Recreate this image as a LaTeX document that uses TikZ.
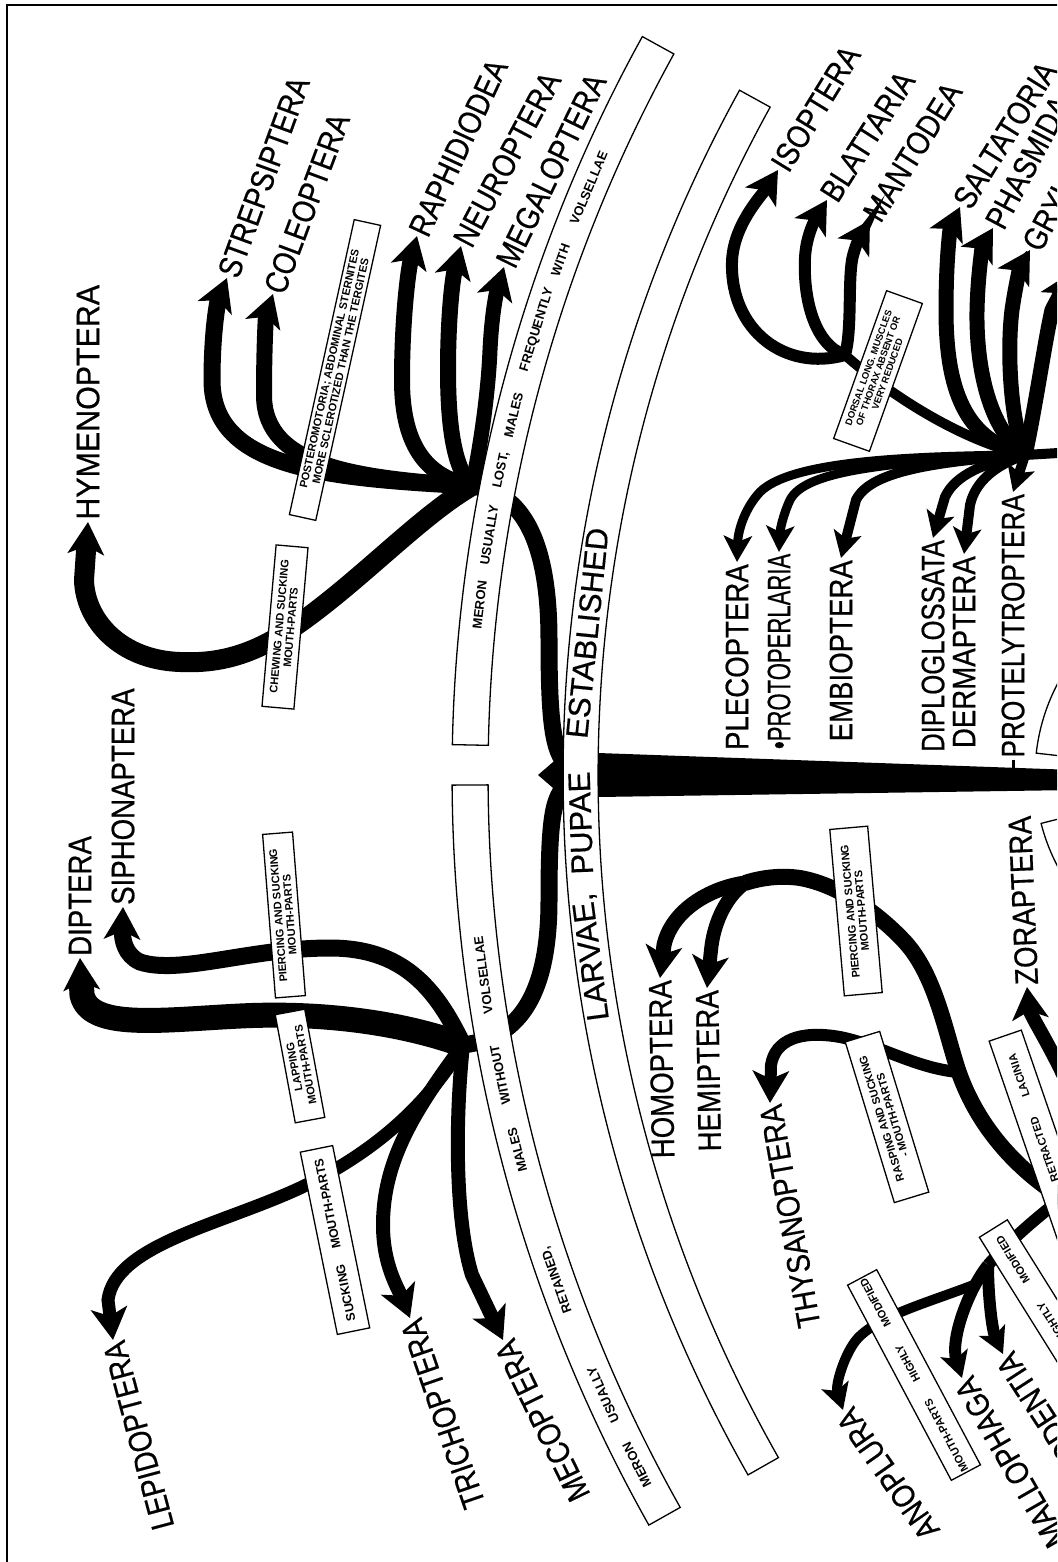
\documentclass[tikz,border=0pt]{standalone}
\usepackage{fontspec}
\setmainfont{Liberation Sans}
\newfontfamily\ordfont[FakeStretch=0.85, FakeBold=0.5]{Liberation Sans}
\newfontfamily\bandfont[FakeBold=0.5]{Liberation Sans}
\usetikzlibrary{arrows.meta, calc}

\begin{document}
\begin{tikzpicture}[x=1pt, y=1pt,
    ord/.style={font=\ordfont\fontsize{32.5}{34}\selectfont, inner sep=2pt},
    bandword/.style={font=\bfseries\fontsize{13}{14}\selectfont, inner sep=0pt},
    bigword/.style={font=\bandfont\fontsize{31}{32}\selectfont, inner sep=0pt},
    note/.style={draw, line width=1.3pt, fill=white, align=center, inner sep=1.5pt, font=\bfseries\fontsize{11}{11.5}\selectfont},
    bandline/.style={draw, line width=1.3pt, fill=white},
    br/.style={line width=#1},
    arr/.style={line width=#1, -{Stealth[length=32pt, width=36pt, inset=8pt]}},
    sarr/.style={line width=#1, -{Stealth[length=26pt, width=28pt, inset=6pt]}}
]
\useasboundingbox (0,0) rectangle (1057,-1562);
\fill[white] (0,0) rectangle (1057,-1562);
\clip (0,0) rectangle (1057,-1562);

% frame
\draw[line width=1.5pt] (7,-1570) -- (7,-5) -- (1070,-5);

% centres of the bands
\coordinate (Cb) at (1980,-775);
\coordinate (Cc) at (1231,-775);

% branching points
\coordinate (holoUp) at (472,-486);
\coordinate (holoLow) at (463,-1045);
\coordinate (ortho) at (1025,-455);
\coordinate (dicty) at (845,-355);
\coordinate (hemi) at (1062,-1198);
\coordinate (homSplit) at (745,-883);
\coordinate (thyJ) at (958,-1072);
\coordinate (psoc) at (988,-1265);
\coordinate (anoJ) at (976,-1284);
\coordinate (zorStart) at (1068,-1085);
\coordinate (cuspUp) at (567,-765);
\coordinate (cuspLow) at (567,-785);

% arrow tips
\coordinate (tHym) at (88,-522);
\coordinate (tStr) at (227,-278);
\coordinate (tCol) at (273,-294);
\coordinate (tRap) at (417,-236);
\coordinate (tNeu) at (461,-246);
\coordinate (tMeg) at (504,-267);
\coordinate (tDip) at (80,-958);
\coordinate (tSip) at (123,-907);
\coordinate (tLep) at (113,-1340);
\coordinate (tTri) at (410,-1318);
\coordinate (tMec) at (503,-1340);
\coordinate (tIso) at (778,-170);
\coordinate (tBla) at (827,-200);
\coordinate (tMan) at (870,-220);
\coordinate (tSal) at (960,-207);
\coordinate (tPha) at (993,-228);
\coordinate (tGry) at (1030,-250);
\coordinate (tXtra) at (1072,-272);
\coordinate (tPle) at (737,-562);
\coordinate (tPro) at (779,-552);
\coordinate (tEmb) at (841,-558);
\coordinate (tDipl) at (933,-538);
\coordinate (tDer) at (964,-554);
\coordinate (tPrt) at (1013,-492);
\coordinate (tHom) at (660,-978);
\coordinate (tHem) at (707,-988);
\coordinate (tThy) at (770,-1103);
\coordinate (tZor) at (1027,-987);
\coordinate (tAno) at (843,-1410);
\coordinate (tMal) at (962,-1378);
\coordinate (tCor) at (1003,-1354);

% trunk
\fill (598,-753) -- (1075,-770) -- (1075,-790) -- (598,-797) -- cycle;

% brace
\draw[br=17pt] (holoUp) .. controls (522,-492) and (549,-540) .. (549,-640) .. controls (549,-722) and (553,-752) .. (cuspUp);
\draw[br=17pt] (holoLow) .. controls (522,-1038) and (549,-990) .. (549,-900) .. controls (549,-818) and (553,-796) .. (cuspLow);
\fill (567,-750) -- (538,-775) -- (567,-800) -- cycle;

% upper holometabola
\draw[arr=17pt] (holoUp) .. controls (330,-478) and (212,-470) .. (212,-380) .. controls (212,-330) and (218,-300) .. (tStr);
\draw[arr=16pt] (holoUp) .. controls (360,-478) and (264,-468) .. (264,-395) .. controls (264,-345) and (266,-315) .. (tCol);
\draw[arr=16pt] (holoUp) .. controls (430,-478) and (402,-450) .. (402,-380) .. controls (402,-320) and (408,-270) .. (tRap);
\draw[arr=16pt] (holoUp) .. controls (455,-470) and (448,-430) .. (448,-370) .. controls (448,-320) and (452,-280) .. (tNeu);
\draw[arr=15pt] (holoUp) .. controls (478,-460) and (488,-400) .. (490,-350) .. controls (492,-310) and (497,-290) .. (tMeg);
\draw[arr=20pt] (holoUp) .. controls (430,-510) and (380,-560) .. (330,-600) .. controls (280,-640) and (240,-665) .. (180,-662) .. controls (120,-660) and (85,-620) .. (84,-580) -- (tHym);

% lower holometabola
\draw[arr=25pt] (holoLow) .. controls (400,-1022) and (320,-1012) .. (240,-1016) .. controls (160,-1020) and (90,-1030) .. (82,-995) -- (tDip);
\draw[arr=17pt] (holoLow) .. controls (435,-985) and (400,-948) .. (330,-948) .. controls (250,-948) and (180,-975) .. (140,-962) .. controls (125,-955) and (122,-940) .. (tSip);
\draw[arr=13pt] (holoLow) .. controls (430,-1100) and (380,-1150) .. (300,-1188) .. controls (220,-1225) and (115,-1245) .. (108,-1300) -- (tLep);
\draw[arr=14pt] (holoLow) .. controls (415,-1110) and (383,-1160) .. (383,-1225) .. controls (383,-1265) and (398,-1288) .. (tTri);
\draw[arr=14pt] (holoLow) .. controls (455,-1120) and (455,-1220) .. (472,-1275) -- (tMec);

% orthopteroids, upper
\draw[br=10pt] (ortho) .. controls (960,-440) and (890,-395) .. (dicty);
\draw[arr=12pt] (dicty) .. controls (785,-372) and (730,-330) .. (732,-262) .. controls (733,-225) and (762,-195) .. (tIso);
\draw[arr=12pt] (dicty) .. controls (815,-345) and (803,-300) .. (805,-258) .. controls (806,-235) and (816,-218) .. (tBla);
\draw[arr=12pt] (dicty) .. controls (852,-330) and (848,-285) .. (852,-260) .. controls (855,-245) and (861,-235) .. (tMan);
\draw[arr=15pt] (ortho) .. controls (965,-440) and (946,-390) .. (946,-310) .. controls (946,-260) and (950,-228) .. (tSal);
\draw[arr=15pt] (ortho) .. controls (990,-430) and (976,-370) .. (977,-310) .. controls (978,-270) and (983,-245) .. (tPha);
\draw[arr=15pt] (ortho) .. controls (1010,-420) and (1007,-350) .. (1012,-310) .. controls (1016,-282) and (1021,-265) .. (tGry);
\draw[arr=15pt] (ortho) .. controls (1035,-410) and (1045,-340) .. (1052,-310) -- (tXtra);
\draw[br=10pt] (ortho) -- (1075,-452);

% orthopteroids, lower
\draw[sarr=9pt] (ortho) .. controls (900,-456) and (790,-462) .. (760,-492) .. controls (745,-508) and (738,-530) .. (tPle);
\draw[sarr=9pt] (ortho) .. controls (890,-462) and (805,-470) .. (790,-500) .. controls (783,-515) and (780,-530) .. (tPro);
\draw[sarr=10pt] (ortho) .. controls (930,-462) and (870,-472) .. (856,-500) -- (tEmb);
\draw[sarr=10pt] (ortho) .. controls (985,-462) and (955,-475) .. (945,-497) -- (tDipl);
\draw[sarr=10pt] (ortho) .. controls (995,-465) and (975,-482) .. (970,-505) -- (tDer);
\draw[sarr=10pt] (ortho) -- (tPrt);

% hemipteroids
\draw[br=16pt] (hemi) .. controls (1010,-1165) and (975,-1120) .. (958,-1070) .. controls (945,-1030) and (935,-975) .. (905,-942) .. controls (880,-915) and (840,-885) .. (800,-878) .. controls (780,-875) and (760,-878) .. (homSplit);
\draw[arr=15pt] (homSplit) .. controls (710,-888) and (672,-910) .. (664,-945) -- (tHom);
\draw[arr=14pt] (homSplit) .. controls (728,-895) and (714,-920) .. (711,-950) -- (tHem);
\draw[arr=12pt] (thyJ) .. controls (915,-1068) and (880,-1045) .. (840,-1037) .. controls (800,-1030) and (775,-1040) .. (771,-1065) -- (tThy);
\draw[arr=14pt] (zorStart) .. controls (1050,-1045) and (1030,-1015) .. (tZor);
\draw[br=12pt] (hemi) .. controls (1040,-1215) and (1010,-1240) .. (psoc);
\draw[sarr=12pt] (psoc) .. controls (988,-1295) and (992,-1330) .. (tCor);
\draw[sarr=12pt] (psoc) .. controls (968,-1290) and (950,-1340) .. (tMal);
\draw[sarr=10pt] (anoJ) .. controls (930,-1302) and (880,-1315) .. (858,-1338) .. controls (845,-1352) and (835,-1385) .. (tAno);

% bands
\draw[bandline] ($(Cb)+(151.1:1382)$) arc[start angle=151.1, end angle=209.6, radius=1382] -- ($(Cb)+(209.6:1417)$) arc[start angle=209.6, end angle=151.1, radius=1417] -- cycle;
\draw[bandline] ($(Cb)+(151.1:1492)$) arc[start angle=151.1, end angle=178.86, radius=1492] -- ($(Cb)+(178.86:1528)$) arc[start angle=178.86, end angle=151.1, radius=1528] -- cycle;
\draw[bandline] ($(Cb)+(180.38:1492)$) arc[start angle=180.38, end angle=209.4, radius=1492] -- ($(Cb)+(209.4:1528)$) arc[start angle=209.4, end angle=180.38, radius=1528] -- cycle;
\draw[bandline] ($(Cc)+(120:172)$) arc[start angle=120, end angle=173.6, radius=172] -- ($(Cc)+(173.6:196)$) arc[start angle=173.6, end angle=120, radius=196] -- cycle;
\draw[bandline] ($(Cc)+(194.3:172)$) arc[start angle=194.3, end angle=240, radius=172] -- ($(Cc)+(240:196)$) arc[start angle=240, end angle=194.3, radius=196] -- cycle;

% band texts
\foreach \a/\w [count=\i] in {174.18/ESTABLISHED, 181.97/PUPAE, 187.47/{LARVAE,}}
  \node[bigword, rotate=\a-90] (bl\i) at ($(Cb)+(\a:1400)$) {\w};
\foreach \a/\w [count=\i] in {173.54/MERON, 170.85/USUALLY, 168.35/{LOST,}, 166.21/MALES, 162.86/FREQUENTLY, 160.06/WITH, 157.13/VOLSELLAE}
  \node[bandword, rotate=\a-90] (mu\i) at ($(Cb)+(\a:1510)$) {\w};
\foreach \a/\w [count=\i] in {187.61/VOLSELLAE, 191.46/WITHOUT, 194.38/MALES, 199.54/{RETAINED,}, 204.24/USUALLY, 207.19/MERON}
  \node[bandword, rotate=\a-90] (ml\i) at ($(Cb)+(\a:1510)$) {\w};

% character boxes
\node[note, rotate=77.6, minimum width=302pt, minimum height=27pt] (nPostero) at (335,-370) {POSTEROMOTORIA; ABDOMINAL STERNITES\\MORE SCLEROTIZED THAN THE TERGITES};
\node[note, rotate=85, minimum width=162pt, minimum height=32pt] (nChew) at (285,-627) {CHEWING AND SUCKING\\MOUTH-PARTS};
\node[note, rotate=94.5, minimum width=164pt, minimum height=30pt] (nPierceA) at (284,-915) {PIERCING AND SUCKING\\MOUTH-PARTS};
\node[note, rotate=100.5, minimum width=110pt, minimum height=30pt] (nLap) at (300,-1066) {LAPPING\\MOUTH-PARTS};
\node[note, rotate=101.5, minimum width=186pt, minimum height=33pt, font=\bfseries\fontsize{12.5}{13}\selectfont] (nSuck) at (335,-1240) {SUCKING\hspace{16pt}MOUTH-PARTS};
\node[note, rotate=70.3, minimum width=157pt, minimum height=38pt, font=\bfseries\fontsize{9.5}{10}\selectfont] (nDors) at (878,-371) {DORSAL LONG. MUSCLES\\OF THORAX ABSENT OR\\VERY REDUCED};
\node[note, rotate=95, minimum width=167pt, minimum height=38pt] (nPierceB) at (856,-911) {PIERCING AND SUCKING\\MOUTH-PARTS};
\node[note, rotate=107, minimum width=168pt, minimum height=36pt] (nRasp) at (887,-1117) {RASPING AND SUCKING\\- MOUTH-PARTS};
\node[note, rotate=118, text width=218pt, minimum height=33pt] (nHigh) at (914,-1375) {MOUTH-PARTS\hfill HIGHLY\hfill MODIFIED};
\node[note, rotate=122, anchor=east, text width=250pt, align=right, minimum height=33pt, inner xsep=10pt] (nSlight) at (993,-1228) {MOUTH-PARTS\hspace{24pt}SLIGHTLY\hspace{24pt}MODIFIED};
\node[note, rotate=109, anchor=east, text width=260pt, align=right, minimum height=34pt, inner xsep=20pt] (nLac) at (1005,-1035) {RETRACTED\hspace{22pt}LACINIA};

% orders
\node[ord, rotate=90, anchor=west, xscale=1.1] (lHym) at (tHym) {HYMENOPTERA};
\node[ord, rotate=70, anchor=west] (lStr) at (tStr) {STREPSIPTERA};
\node[ord, rotate=69.5, anchor=west] (lCol) at (tCol) {COLEOPTERA};
\node[ord, rotate=65, anchor=west] (lRap) at (tRap) {RAPHIDIODEA};
\node[ord, rotate=62, anchor=west] (lNeu) at (tNeu) {NEUROPTERA};
\node[ord, rotate=64, anchor=west] (lMeg) at (tMeg) {MEGALOPTERA};
\node[ord, rotate=90, anchor=west] (lDip) at (tDip) {DIPTERA};
\node[ord, rotate=90, anchor=west] (lSip) at (tSip) {SIPHONAPTERA};
\node[ord, rotate=105, anchor=east] (lLep) at (tLep) {LEPIDOPTERA};
\node[ord, rotate=109, anchor=east] (lTri) at (tTri) {TRICHOPTERA};
\node[ord, rotate=116, anchor=east] (lMec) at (tMec) {MECOPTERA};
\node[ord, rotate=58.5, anchor=west] (lIso) at (tIso) {ISOPTERA};
\node[ord, rotate=57.5, anchor=west] (lBla) at (tBla) {BLATTARIA};
\node[ord, rotate=58, anchor=west] (lMan) at (tMan) {MANTODEA};
\node[ord, rotate=58, anchor=west] (lSal) at (tSal) {SALTATORIA};
\node[ord, rotate=62, anchor=west] (lPha) at (tPha) {PHASMIDA};
\node[ord, rotate=62, anchor=west] (lGry) at (tGry) {GRYLLOBLATTODEA};
\node[ord, rotate=90, anchor=east] (lPle) at (tPle) {PLECOPTERA};
\node[ord, rotate=90, anchor=east, xscale=0.8] (lPro) at (tPro) {\textbullet PROTOPERLARIA};
\node[ord, rotate=90, anchor=east] (lEmb) at (tEmb) {EMBIOPTERA};
\node[ord, rotate=90, anchor=east, xscale=0.93] (lDipl) at (tDipl) {DIPLOGLOSSATA};
\node[ord, rotate=90, anchor=east] (lDer) at (tDer) {DERMAPTERA};
\node[ord, rotate=90, anchor=east, xscale=0.95] (lPrt) at (tPrt) {PROTELYTROPTERA};
\node[ord, rotate=91, anchor=east] (lHom) at (tHom) {HOMOPTERA};
\node[ord, rotate=91, anchor=east] (lHem) at (tHem) {HEMIPTERA};
\node[ord, rotate=100, anchor=east] (lThy) at (tThy) {THYSANOPTERA};
\node[ord, rotate=92.5, anchor=west] (lZor) at (tZor) {ZORAPTERA};
\node[ord, rotate=125, anchor=east] (lAno) at (tAno) {ANOPLURA};
\node[ord, rotate=120, anchor=east] (lMal) at (tMal) {MALLOPHAGA};
\node[ord, rotate=123, anchor=east] (lCor) at (tCor) {CORRODENTIA};

% fossil tick
\draw[line width=3pt] (lPrt.west) -- ++(0,-13);

\end{tikzpicture}
\end{document}
